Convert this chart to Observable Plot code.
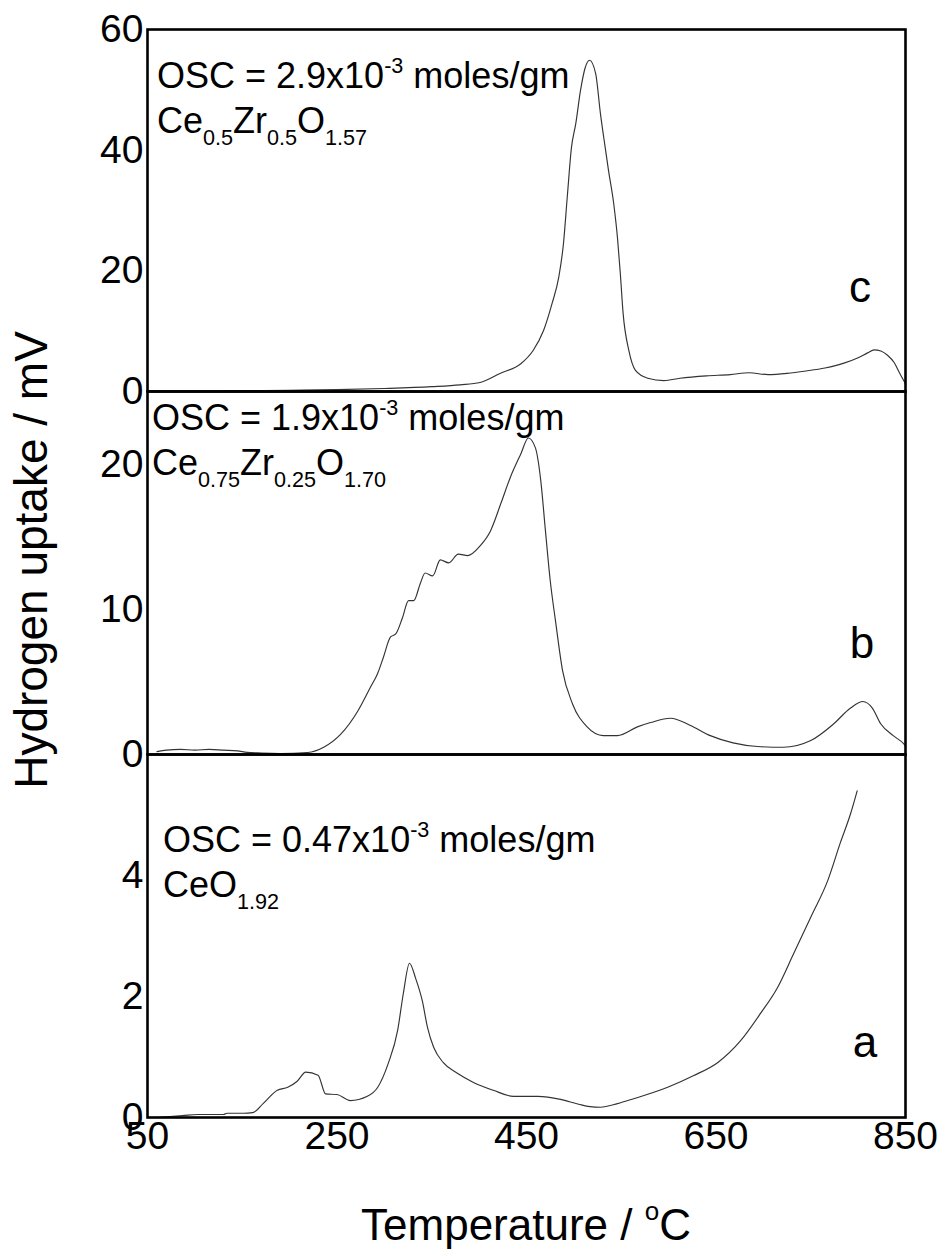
<!DOCTYPE html>
<html><head><meta charset="utf-8">
<script src="https://cdn.jsdelivr.net/npm/d3@7"></script>
<script src="https://cdn.jsdelivr.net/npm/@observablehq/plot@0.6"></script>
<style>
body{margin:0;background:#fff;}
#chart{position:relative;width:945px;height:1257px;font-family:"Liberation Sans",Arial,sans-serif;}
#chart svg{position:absolute;left:0;overflow:visible;}
</style></head><body><div id="chart"></div>
<script>
// Temperature (°C) and hydrogen uptake (mV)
const tempC   = [50,100,150,200,250,300,350,380,401,422,444,457,468,477,484,489,493,497.5,502,507,512,516.5,523,528,533,536.5,542,546,549,552,558,565,578,595,612,640,665,685,705,725,745,765,785,800,810,817,824,831,838,844,850];
const uptakeC = [0.1,0.1,0.15,0.2,0.3,0.5,0.8,1.1,1.5,3.0,4.6,6.8,10.1,14.6,18.9,24.5,32.2,40.5,44.4,49.9,53.7,54.9,52.7,46.1,40.5,36.7,31.2,25.5,19.6,12.9,6.8,3.5,2.2,1.8,2.2,2.6,2.8,3.1,2.8,3.0,3.4,3.9,4.7,5.6,6.4,6.9,6.7,6.0,4.8,3.0,1.3];

const tempB   = [60,70,85,100,115,130,145,155,170,190,219,236,254,272,285,293,299,306.5,312,319,325.5,331,338,343,351,359,368,378,388,401.5,412,423,433,444,452,459.5,465,470,475,480.6,488,498.5,514,531,546,567,581,602,623,644,668,694,721,750,774,792,805,815,824,837,848,850];
const uptakeB = [0.2,0.3,0.35,0.3,0.35,0.3,0.25,0.15,0.1,0.07,0.14,0.5,1.4,3.0,4.6,5.6,6.7,8.1,8.3,9.4,10.6,10.6,11.8,12.5,12.3,13.4,13.2,13.8,13.7,14.4,15.4,17.3,19.1,20.7,21.8,21.1,18.9,15.4,12.0,9.2,5.8,3.5,1.9,1.3,1.3,1.9,2.2,2.5,2.0,1.3,0.8,0.55,0.5,0.96,2.1,3.2,3.65,3.2,2.1,1.3,0.75,0.6];

const tempA   = [60,87,103,130,134,151,161,172,187,198,208,217,230,238,250,264,282,293,304,314,320,326.5,333,340,345.5,352,362,377,394,415,436,462,486,505,517,528,546,563,599,626,652,676,697,715,732,750,768,781,792,799];
const uptakeA = [0.0,0.03,0.05,0.05,0.07,0.07,0.08,0.23,0.45,0.5,0.6,0.75,0.7,0.39,0.38,0.28,0.35,0.5,0.89,1.44,2.05,2.55,2.3,1.93,1.49,1.16,0.91,0.73,0.58,0.45,0.35,0.35,0.3,0.22,0.18,0.17,0.23,0.31,0.5,0.69,0.91,1.27,1.72,2.15,2.71,3.31,3.92,4.53,5.02,5.4];

const xTicks  = [50,250,450,650,850];
const yTicksC = [0,20,40,60];
const yTicksB = [0,10,20];
const yTicksA = [0,2,4];

const panelLetters = ["c","b","a"];
const oscValues = ["2.9","1.9","0.47"];
const formulaC = [["Ce","n"],["0.5","sub"],["Zr","n"],["0.5","sub"],["O","n"],["1.57","sub"]];
const formulaB = [["Ce","n"],["0.75","sub"],["Zr","n"],["0.25","sub"],["O","n"],["1.70","sub"]];
const formulaA = [["Ce","n"],["O","n"],["1.92","sub"]];

const FONT = "Liberation Sans, Arial, Helvetica, sans-serif";
const root = document.getElementById("chart");

function rich(sel, x, y, parts, size) {
  const t = sel.append("text").attr("x", x).attr("y", y).attr("text-anchor", "start")
    .attr("font-size", size).attr("fill", "#000").attr("font-family", FONT)
    .style("white-space", "pre");
  let shift = 0;
  for (const [s, k] of parts) {
    const target = k === "sup" ? -0.42 * size : k === "sub" ? 0.34 * size : 0;
    t.append("tspan").attr("dy", target - shift)
      .attr("font-size", k === "n" ? size : size * 0.6).text(s);
    shift = target;
  }
}

const panels = [
  {temp: tempC, val: uptakeC, yMax: 60, yTicks: yTicksC, top: 0,   height: 391, mt: 29, mb: 0,
   letter: panelLetters[0], osc: oscValues[0], formula: formulaC, ax: 157, ay: 88,  letterPos: [860, 302]},
  {temp: tempB, val: uptakeB, yMax: 25, yTicks: yTicksB, top: 391, height: 363, mt: 0, mb: 0,
   letter: panelLetters[1], osc: oscValues[1], formula: formulaB, ax: 152, ay: 39,  letterPos: [862, 267]},
  {temp: tempA, val: uptakeA, yMax: 6,  yTicks: yTicksA, top: 754, height: 503, mt: 0, mb: 140,
   letter: panelLetters[2], osc: oscValues[2], formula: formulaA, ax: 163, ay: 98,  letterPos: [865, 303], bottom: true}
];

for (const p of panels) {
  const data = p.temp.map((t, i) => ({t, v: p.val[i]}));
  const marks = [
    Plot.line(data, {x: "t", y: "v", stroke: "#333", strokeWidth: 1.15, curve: "monotone-x"}),
    Plot.axisY({ticks: p.yTicks, tickSize: 0, tickPadding: 4, fontSize: 39, label: null, tickFormat: d => String(d)}),
    Plot.frame({stroke: "#000", strokeWidth: 2.6})
  ];
  if (p.bottom) marks.push(Plot.axisX({ticks: xTicks, tickSize: 0, tickPadding: 4, fontSize: 39, label: null, tickFormat: d => String(d)}));
  const plot = Plot.plot({
    width: 945, height: p.height,
    marginLeft: 147, marginRight: 40, marginTop: p.mt, marginBottom: p.mb,
    style: {background: "transparent", overflow: "visible", fontFamily: FONT, color: "#000"},
    x: {domain: [50, 850], axis: p.bottom ? undefined : null},
    y: {domain: [0, p.yMax]},
    marks
  });
  plot.style.top = p.top + "px";
  root.appendChild(plot);
  const svg = d3.select(plot);
  rich(svg, p.ax, p.ay, [["OSC = " + p.osc + "x10", "n"], ["-3", "sup"], [" moles/gm", "n"]], 36);
  rich(svg, p.ax, p.ay + 45, p.formula, 36);
  svg.append("text").attr("x", p.letterPos[0]).attr("y", p.letterPos[1])
    .attr("text-anchor", "middle").attr("font-size", 44).attr("font-family", FONT).text(p.letter);
}

// axis titles
const overlay = d3.select(root).append("svg").attr("width", 945).attr("height", 1257).style("top", "0px").style("pointer-events", "none");
overlay.append("text").attr("transform", "translate(47,560) rotate(-90)")
  .attr("text-anchor", "middle").attr("font-size", 46).attr("font-family", FONT).text("Hydrogen uptake / mV");
const xt = overlay.append("text").attr("x", 526).attr("y", 1240).attr("text-anchor", "middle")
  .attr("font-size", 44).attr("font-family", FONT).style("white-space", "pre");
xt.append("tspan").text("Temperature / ");
xt.append("tspan").attr("font-size", 26).attr("dy", -20).text("o");
xt.append("tspan").attr("dy", 20).text("C");
</script></body></html>
